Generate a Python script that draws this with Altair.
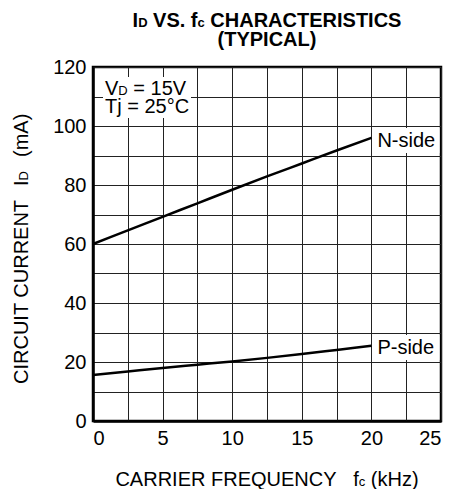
import altair as alt
import pandas as pd

# ---- data ----
freq_khz = [0, 2.5, 5, 7.5, 10, 12.5, 15, 17.5, 20]
n_side_ma = [60, 64.6, 69.2, 73.8, 78.4, 82.9, 87.3, 91.7, 96.0]
p_side_ma = [15.6, 16.8, 18.0, 19.1, 20.2, 21.4, 22.7, 24.1, 25.5]
x_grid = [0, 2.5, 5, 7.5, 10, 12.5, 15, 17.5, 20, 22.5, 25]
y_grid = [0, 10, 20, 30, 40, 50, 60, 70, 80, 90, 100, 110, 120]

FONT = "Liberation Sans"
# plot origin on the page (page margin 8 included) and plot size
OX, OY = 93, 67
W, H = 348, 354
PAD_L, PAD_T = OX - 8, OY - 8
PAD_R = 445 - PAD_L - W
PAD_B = 481 - PAD_T - H


def px(x):
    return x - OX


def py(y):
    return y - OY


df = pd.DataFrame({
    "f": freq_khz * 2,
    "i": n_side_ma + p_side_ma,
    "s": ["N-side"] * len(freq_khz) + ["P-side"] * len(freq_khz),
})
dummy = pd.DataFrame({"a": [0]})

# Arial/Liberation advance widths (per 1000 em)
REG = {' ': 278, '(': 333, ')': 333, '-': 333, '.': 278, '=': 584, '°': 400,
       '0': 556, '1': 556, '2': 556, '5': 556,
       'A': 667, 'C': 722, 'D': 722, 'E': 667, 'F': 611, 'I': 278, 'N': 722,
       'Q': 778, 'R': 722, 'T': 611, 'U': 722, 'V': 667, 'Y': 667,
       'c': 500, 'f': 278, 'j': 222, 'k': 500, 'm': 833, 'H': 722, 'z': 500}
BOLD = {' ': 278, '.': 278, 'I': 278, 'D': 722, 'V': 667, 'S': 667, 'f': 333,
        'c': 556, 'C': 722, 'H': 722, 'A': 722, 'R': 722, 'T': 611, 'E': 667}


def tw(s, size, bold=False):
    t = BOLD if bold else REG
    return sum(t.get(ch, 600) for ch in s) * size / 1000.0


def txt(s, x, y, size, bold=False, angle=0, align="left"):
    kw = dict(align=align, baseline="alphabetic", font=FONT, fontSize=size,
              color="black", fontWeight="bold" if bold else "normal")
    if angle:
        kw["angle"] = angle
    return alt.Chart(dummy).mark_text(**kw).encode(
        x=alt.value(x), y=alt.value(y), text=alt.value(s))


def run(pieces, x0, y, bold=False):
    """Lay text pieces side by side; spaces become offsets (SVG trims them)."""
    out = []
    x = x0
    for s, size in pieces:
        lead = len(s) - len(s.lstrip(" "))
        x += tw(" " * lead, size, bold)
        core = s.strip(" ")
        if core:
            out.append(txt(core, x, y, size, bold))
        x += tw(s[lead:], size, bold)
    return out


def white(x1, x2, y1, y2):
    return alt.Chart(dummy).mark_rect(color="white").encode(
        x=alt.value(x1), x2=alt.value(x2), y=alt.value(y1), y2=alt.value(y2))


axis_common = dict(title=None, ticks=False, labelOverlap=False, labelPadding=7,
                   labelFontSize=20, labelFont=FONT, labelColor="black",
                   gridColor="#222", gridWidth=1,
                   domainColor="black", domainWidth=2.5)

x_enc = alt.X("f:Q", scale=alt.Scale(domain=[0, 25], nice=False, zero=False),
              axis=alt.Axis(values=x_grid,
                            labelExpr="datum.value % 5 === 0 ? datum.label : ''",
                            **axis_common))
y_enc = alt.Y("i:Q", scale=alt.Scale(domain=[0, 120], nice=False, zero=True),
              axis=alt.Axis(values=y_grid,
                            labelExpr="datum.value % 20 === 0 ? datum.label : ''",
                            **axis_common))

lines = alt.Chart(df).mark_line(color="black", strokeWidth=2.5,
                                interpolate="monotone").encode(
    x=x_enc, y=y_enc, detail="s:N")

layers = [lines]

# condition box (top-left)
layers.append(white(px(103), px(191), py(77), py(118)))
layers += run([("V", 20), ("D", 13), (" = 15V", 20)], px(105), py(95))
layers += run([("Tj = 25°C", 20)], px(105), py(113))

# series labels
lab_x = W * 0.8 + 6
layers.append(white(lab_x - 2, lab_x + 62, py(128), py(153)))
layers.append(txt("N-side", lab_x, py(147), 20))
layers.append(white(lab_x - 2, lab_x + 62, py(335), py(360)))
layers.append(txt("P-side", lab_x, py(354), 20))

# title
t1 = [("I", 20), ("D", 13), (" VS. f", 20), ("c", 13), (" CHARACTERISTICS", 20)]
t1w = sum(tw(s, z, True) for s, z in t1)
layers += run(t1, W / 2 - t1w / 2, py(27), bold=True)
layers.append(txt("(TYPICAL)", W / 2, py(46), 20, bold=True, align="center"))

# x axis title
xt = [("CARRIER FREQUENCY", 20), ("   f", 20), ("c", 13), (" (kHz)", 20)]
xtw = sum(tw(s, z) for s, z in xt)
layers += run(xt, W / 2 - xtw / 2, py(486))

# y axis title (rotated, reads bottom to top)
yx = px(28)
layers.append(txt("CIRCUIT CURRENT", yx, py(384), 20, angle=270))
layers.append(txt("I", yx, py(186), 20, angle=270))
layers.append(txt("D", yx, py(186) - tw("I", 20), 13, angle=270))
layers.append(txt("(mA)", yx, py(157), 20, angle=270))

chart = alt.layer(*layers).properties(
    width=W, height=H,
    autosize=alt.AutoSizeParams(type="none"),
    padding={"left": PAD_L, "top": PAD_T, "right": PAD_R, "bottom": PAD_B},
).configure_view(stroke="black", strokeWidth=2.5)

chart.save("out.html", embed_options={"renderer": "svg", "actions": False})
